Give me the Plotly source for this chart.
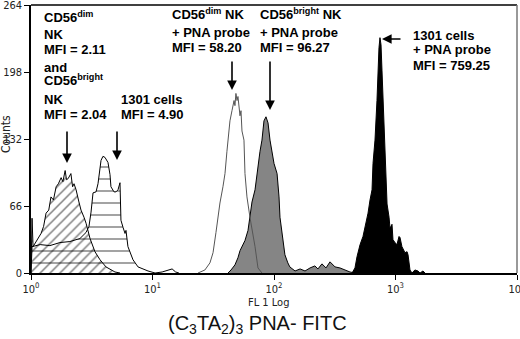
import plotly.graph_objects as go

# ---- data (FL1 channel value, counts) ----
nk_x = [1.0, 1.02, 1.04, 1.12, 1.21, 1.27, 1.33, 1.40, 1.46, 1.53, 1.61, 1.68, 1.77, 1.83, 1.91, 1.96,
        2.02, 2.13, 2.20, 2.26, 2.35, 2.48, 2.58, 2.73, 2.84, 3.06, 3.36, 3.70, 4.14, 4.91, 5.40]
nk_y = [0, 54, 26, 32, 39, 46, 59, 62, 75, 72, 85, 88, 94, 90, 101, 92,
        93, 98, 85, 88, 82, 70, 62, 55, 49, 34, 21, 13, 6, 1, 0]

c1301_x = [1.0, 1.02, 1.19, 1.43, 1.73, 2.09, 2.53, 2.84, 3.00, 3.12, 3.24, 3.43, 3.56, 3.70, 3.77, 3.91,
           4.06, 4.30, 4.47, 4.55, 4.82, 5.01, 5.20, 5.40, 5.50, 5.72, 5.94, 6.05, 6.28, 6.91, 7.60,
           9.18, 10.5, 12.0, 14.5, 15.5, 16.5]
c1301_y = [0, 26, 28, 27, 30, 31, 34, 40, 46, 60, 79, 80, 88, 101, 111, 115,
           114, 109, 97, 85, 80, 80, 82, 89, 52, 45, 39, 42, 26, 13, 6,
           2, 0, 1, 4, 1, 0]

dimpna_x = [23.7, 27.0, 29.7, 31.5, 33.3, 34.6, 35.9, 38.0, 39.5, 41.0, 41.8, 43.4, 45.1, 46.9, 47.7,
            48.6, 49.6, 50.5, 52.5, 53.5, 54.5, 56.6, 57.7, 59.9, 63.4, 67.2, 69.8, 73.8, 79.6]
dimpna_y = [0, 3, 10, 20, 40, 55, 69, 85, 98, 120, 131, 150, 160, 170, 165,
            177, 170, 174, 155, 160, 140, 131, 98, 75, 55, 38, 26, 5, 0]

brpna_x = [41.8, 44.3, 47.7, 50.5, 52.5, 54.5, 57.7, 61.1, 63.4, 65.9, 69.8, 72.4, 73.8, 76.7, 79.6,
           82.7, 85.9, 89.3, 92.7, 96.3, 100, 106, 110, 112, 116, 123, 130, 135, 149, 164,
           180, 198, 217, 230, 248, 268, 289, 318, 349, 384, 422, 464]
brpna_y = [0, 3, 8, 15, 22, 26, 32, 42, 55, 70, 82, 98, 104, 120, 131,
           150, 154, 148, 131, 120, 108, 98, 75, 55, 40, 18, 10, 6, 2, 4,
           2, 5, 7, 4, 9, 5, 11, 6, 5, 3, 1, 0]

c1301pna_x = [439, 464, 482, 511, 540, 572, 594, 617, 641, 653, 678, 704, 718, 731, 745, 760, 774,
              804, 820, 836, 852, 885, 901, 936, 953, 989, 1028, 1069, 1089, 1130, 1197, 1245,
              1268, 1316, 1367, 1445, 1531, 1592, 1683, 1750]
c1301pna_y = [0, 5, 16, 28, 36, 50, 59, 72, 82, 108, 131, 170, 210, 222, 232, 225, 200,
              150, 131, 95, 68, 55, 44, 48, 33, 30, 28, 36, 35, 26, 20, 21,
              18, 3, 0, 3, 2, 0, 2, 0]

y_ticks = [0, 66, 132, 198, 264]
x_ticks = [1, 10, 100, 1000, 10000]
x_ticktext = ["10<sup>0</sup>", "10<sup>1</sup>", "10<sup>2</sup>", "10<sup>3</sup>", "10<sup>4</sup>"]

narrow = "DejaVu Sans Condensed, Liberation Sans Narrow, Arial Narrow, Liberation Sans"
bold = "Liberation Sans, Arial"

fig = go.Figure()

fig.add_trace(go.Scatter(
    x=c1301_x, y=c1301_y, mode="lines", fill="tozeroy",
    line=dict(color="black", width=1),
    fillcolor="rgba(0,0,0,0)",
    fillpattern=dict(shape="-", size=12, solidity=0.12, fgcolor="black", bgcolor="rgba(0,0,0,0)"),
    hoverinfo="skip"))
fig.add_trace(go.Scatter(
    x=nk_x, y=nk_y, mode="lines", fill="tozeroy",
    line=dict(color="black", width=1),
    fillcolor="rgba(0,0,0,0)",
    fillpattern=dict(shape="/", size=7, solidity=0.22, fgcolor="black", bgcolor="rgba(0,0,0,0)"),
    hoverinfo="skip"))
fig.add_trace(go.Scatter(
    x=brpna_x, y=brpna_y, mode="lines", fill="tozeroy",
    line=dict(color="black", width=1), fillcolor="#858585", hoverinfo="skip"))
fig.add_trace(go.Scatter(
    x=dimpna_x, y=dimpna_y, mode="lines",
    line=dict(color="#555555", width=1), hoverinfo="skip"))
fig.add_trace(go.Scatter(
    x=c1301pna_x, y=c1301pna_y, mode="lines", fill="tozeroy",
    line=dict(color="black", width=1), fillcolor="black", hoverinfo="skip"))

fig.update_layout(
    width=520, height=339,
    margin=dict(l=31, r=3, t=5, b=66, autoexpand=False),
    paper_bgcolor="white", plot_bgcolor="white",
    showlegend=False,
    xaxis=dict(type="log", range=[0, 4], showgrid=False, zeroline=False,
               showline=True, linecolor="black", linewidth=1.5,
               ticks="outside", ticklen=5, tickcolor="black",
               tickvals=x_ticks, ticktext=x_ticktext, automargin=False,
               ticklabeloverflow="allow",
               tickfont=dict(family=narrow, size=11, color="#222")),
    yaxis=dict(range=[0, 264.2], showgrid=False, zeroline=False,
               showline=True, linecolor="black", linewidth=1.5,
               ticks="outside", ticklen=5, tickcolor="black",
               tickvals=y_ticks, automargin=False,
               ticklabeloverflow="allow",
               tickfont=dict(family=narrow, size=11, color="#222")),
)

# borders
fig.add_shape(type="line", xref="paper", yref="paper", x0=0, x1=1, y0=1, y1=1,
              line=dict(color="black", width=1.5))
fig.add_shape(type="line", xref="paper", yref="paper", x0=1, x1=1, y0=0, y1=1,
              line=dict(color="#777", width=1.5))

def ptx(px):
    return (px - 31) / 486.0

def pty(py):
    return (273 - py) / 268.0

tfont = dict(family=bold, size=13, color="black")
# (left x px, centre y px, text) for each label line
lines = [
    (42, 20, "CD56<sup>dim</sup>"),
    (42, 34, "NK"),
    (42, 50, "MFI = 2.11"),
    (42, 67, "and"),
    (42, 83, "CD56<sup>bright</sup>"),
    (42, 100, "NK"),
    (42, 115, "MFI = 2.04"),
    (119, 100, "1301 cells"),
    (119, 115, "MFI = 4.90"),
    (170, 17, "CD56<sup>dim</sup> NK"),
    (170, 33, "+ PNA probe"),
    (170, 48, "MFI = 58.20"),
    (258, 17, "CD56<sup>bright</sup> NK"),
    (258, 33, "+ PNA probe"),
    (258, 48, "MFI = 96.27"),
    (411, 35, "1301 cells"),
    (411, 50, "+ PNA probe"),
    (411, 65, "MFI = 759.25"),
]
for bx, by, txt in lines:
    dy = 3 if "<sup>" in txt else 0
    fig.add_annotation(xref="paper", yref="paper", x=ptx(bx), y=pty(by - dy),
                       xanchor="left", yanchor="middle", align="left",
                       text="<b>" + txt + "</b>", showarrow=False, font=tfont)

# arrows (tip pixel, tail offsets)
arrows = [
    (67, 163, 0, -33),
    (117, 160, 0, -30),
    (232, 90, 0, -30),
    (270, 110, 0, -50),
    (382, 39, 20, 0),
]
for tx, ty, ax, ay in arrows:
    fig.add_annotation(xref="paper", yref="paper", x=ptx(tx), y=pty(ty),
                       ax=ax, ay=ay, text="", showarrow=True,
                       arrowhead=2, arrowsize=1.2, arrowwidth=1.6, arrowcolor="black")

fig.add_annotation(xref="paper", yref="paper", x=ptx(6), y=pty(134), text="Counts",
                   xanchor="center", yanchor="middle",
                   textangle=-90, showarrow=False, font=dict(family=narrow, size=12, color="#222"))
fig.add_annotation(xref="paper", yref="paper", x=ptx(268), y=pty(302), text="FL 1 Log",
                   xanchor="center", yanchor="middle",
                   showarrow=False, font=dict(family=narrow, size=11, color="#222"))
fig.add_annotation(xref="paper", yref="paper", x=ptx(257), y=pty(324),
                   xanchor="center", yanchor="middle",
                   text="(C<sub>3</sub>TA<sub>2</sub>)<sub>3</sub> PNA- FITC",
                   showarrow=False, font=dict(family="Liberation Sans, Arial", size=20, color="#111"))

fig.write_html("out.html", config={"displayModeBar": False},
               post_script="document.body.style.margin='0';document.body.style.overflow='hidden';")
